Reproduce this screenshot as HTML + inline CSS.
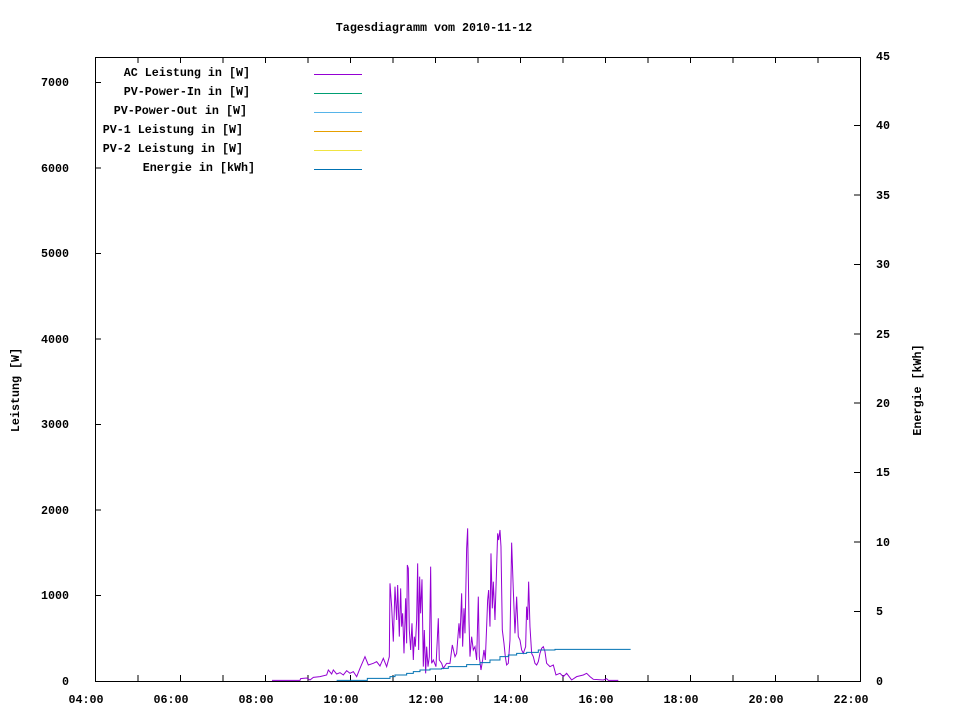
<!DOCTYPE html>
<html><head><meta charset="utf-8"><style>
body{margin:0;background:#fff}
svg text{font-family:"Liberation Mono","DejaVu Sans Mono",monospace;font-size:11.7px;font-weight:bold;fill:#000}
</style></head><body>
<svg width="960" height="720" xmlns="http://www.w3.org/2000/svg">
<rect width="960" height="720" fill="#fff"/>
<text x="434" y="31" text-anchor="middle">Tagesdiagramm vom 2010-11-12</text>
<rect x="95.5" y="57.5" width="765" height="624" fill="none" stroke="#000" stroke-width="1"/>
<g stroke="#000" stroke-width="1" id="ticks">
<path d="M95.5 681v-6M138 681v-6M180.5 681v-6M223 681v-6M265.5 681v-6M308 681v-6M350.5 681v-6M393 681v-6M435.5 681v-6M478 681v-6M520.5 681v-6M563 681v-6M605.5 681v-6M648 681v-6M690.5 681v-6M733 681v-6M775.5 681v-6M818 681v-6M860.5 681v-6"/>
<path d="M95.5 57v6M138 57v6M180.5 57v6M223 57v6M265.5 57v6M308 57v6M350.5 57v6M393 57v6M435.5 57v6M478 57v6M520.5 57v6M563 57v6M605.5 57v6M648 57v6M690.5 57v6M733 57v6M775.5 57v6M818 57v6M860.5 57v6"/>
<path d="M95 595.5h6M95 510h6M95 424.5h6M95 339h6M95 253.5h6M95 168h6M95 82.5h6"/>
<path d="M860 611.5h-6M860 542h-6M860 472.5h-6M860 403h-6M860 334h-6M860 264.5h-6M860 195h-6M860 125.5h-6M860 57.5h-6"/>
</g>
<g text-anchor="end">
<text x="69" y="685">0</text><text x="69" y="599">1000</text><text x="69" y="514">2000</text><text x="69" y="428">3000</text><text x="69" y="343">4000</text><text x="69" y="257">5000</text><text x="69" y="172">6000</text><text x="69" y="86">7000</text>
</g>
<g>
<text x="876" y="685">0</text><text x="876" y="615">5</text><text x="876" y="546">10</text><text x="876" y="476">15</text><text x="876" y="407">20</text><text x="876" y="338">25</text><text x="876" y="268">30</text><text x="876" y="199">35</text><text x="876" y="129">40</text><text x="876" y="60">45</text>
</g>
<g text-anchor="middle">
<text x="86" y="703">04:00</text><text x="171" y="703">06:00</text><text x="256" y="703">08:00</text><text x="341" y="703">10:00</text><text x="426" y="703">12:00</text><text x="511" y="703">14:00</text><text x="596" y="703">16:00</text><text x="681" y="703">18:00</text><text x="766" y="703">20:00</text><text x="851" y="703">22:00</text>
</g>
<text transform="translate(19,390) rotate(-90)" text-anchor="middle">Leistung [W]</text>
<text transform="translate(921,390) rotate(-90)" text-anchor="middle">Energie [kWh]</text>
<g text-anchor="end">
<text x="250" y="76">AC Leistung in [W]</text>
<text x="250" y="95">PV-Power-In in [W]</text>
<text x="247" y="114">PV-Power-Out in [W]</text>
<text x="243" y="133">PV-1 Leistung in [W]</text>
<text x="243" y="152">PV-2 Leistung in [W]</text>
<text x="255" y="171">Energie in [kWh]</text>
</g>
<g stroke-width="1">
<path d="M314 74.5h48" stroke="#9400d3"/>
<path d="M314 93.5h48" stroke="#009e73"/>
<path d="M314 112.5h48" stroke="#56b4e9"/>
<path d="M314 131.5h48" stroke="#e69f00"/>
<path d="M314 150.5h48" stroke="#f0e442"/>
<path d="M314 169.5h48" stroke="#0072b2"/>
</g>
<g transform="translate(260,520) scale(0.3333)" fill="none">
<polyline vector-effect="non-scaling-stroke" stroke="#9400d3" stroke-width="1" points="36,481 120,481 122,476 140,474 150,480 160,472 180,470 200,465 205,450 215,462 220,450 230,462 240,458 250,465 260,452 270,460 280,455 290,470 300,445 315,410 325,435 340,430 350,425 360,438 370,415 380,440 388,410 390,190 395,260 400,365 405,200 410,300 413,195 418,350 422,205 425,320 428,280 432,400 437,235 440,370 442,135 445,145 448,330 452,390 456,310 460,420 463,350 466,380 470,300 473,130 476,390 479,170 482,280 486,178 490,440 493,330 497,460 500,380 504,440 508,410 512,140 515,430 520,420 528,440 535,295 538,420 545,430 550,445 560,430 570,430 577,375 585,410 590,400 597,310 600,355 605,220 608,380 612,265 615,340 620,85 623,25 627,300 630,410 635,350 640,390 645,380 650,420 655,230 658,410 663,450 668,420 672,390 676,420 680,320 683,240 686,210 690,320 693,100 697,265 700,185 705,300 710,140 713,40 716,60 720,30 723,80 727,330 732,370 736,410 740,435 745,430 750,360 755,68 760,210 765,340 770,230 775,350 780,360 785,390 790,400 797,380 800,260 803,300 806,185 810,320 815,400 820,410 825,430 830,435 835,425 840,400 845,385 850,380 855,395 860,430 870,440 880,435 888,465 900,460 910,470 920,460 935,480 950,470 970,465 980,460 990,470 1000,478 1030,480 1040,476 1045,481 1075,481"/>
<polyline vector-effect="non-scaling-stroke" stroke="#0072b2" stroke-width="1" points="230,481 322,481 322,475 390,475 390,470 405,470 405,465 440,465 440,460 460,460 460,455 480,455 480,450 510,450 510,447 545,447 545,445 565,445 565,440 620,440 620,434 660,434 660,428 690,428 690,420 720,420 720,410 745,410 745,405 770,405 770,400 800,400 800,397 835,397 835,390 885,390 885,388 1112,388"/>
</g>
</svg>
</body></html>
